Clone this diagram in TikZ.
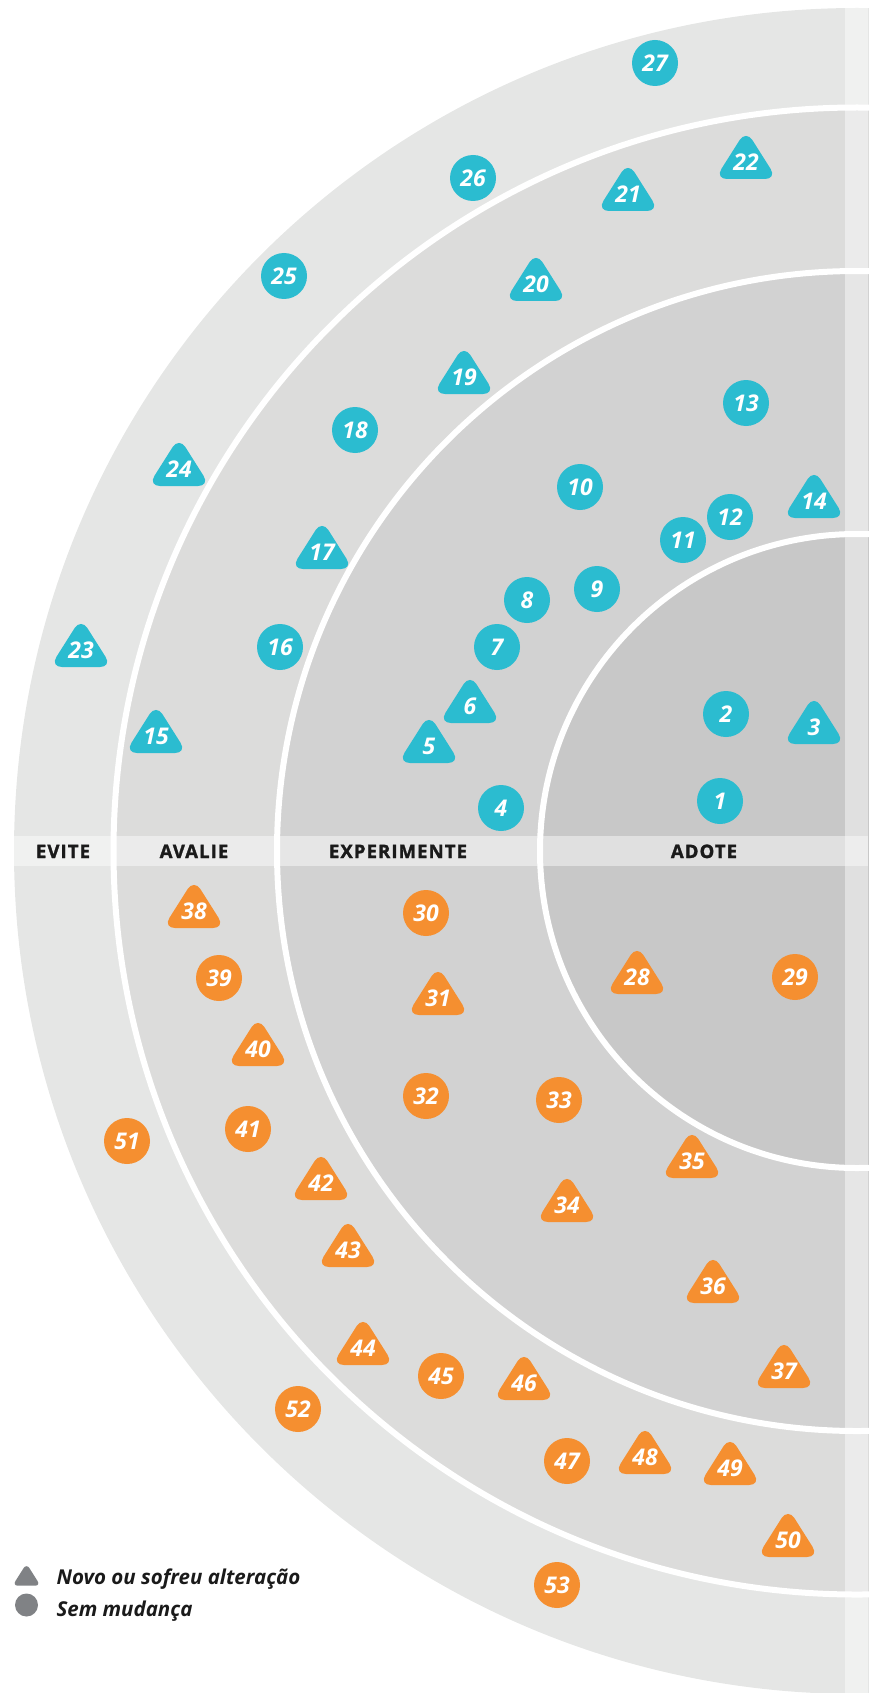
\documentclass[tikz,border=0pt]{standalone}
\usepackage{fontspec}
\setmainfont{Open Sans}
\newfontfamily\bandfont{Open Sans}[BoldFeatures={FakeBold=1.6},LetterSpace=6]

\definecolor{ringout}{HTML}{E5E6E5}
\definecolor{ringthree}{HTML}{DCDCDB}
\definecolor{ringtwo}{HTML}{D2D2D2}
\definecolor{ringone}{HTML}{C8C8C8}
\definecolor{techblue}{HTML}{2BBCD0}
\definecolor{techorange}{HTML}{F58F30}
\definecolor{legendgrey}{HTML}{808285}
\definecolor{inkdark}{HTML}{1A1A1A}

\tikzset{
  pcirc/.style={circle,fill=#1,minimum size=46,inner sep=0,text=white,
    font=\bfseries\itshape\fontsize{23}{23}\selectfont},
  plabel/.style={inner sep=0,text=white,
    font=\bfseries\itshape\fontsize{23}{23}\selectfont},
  tri/.pic={\fill[#1,rounded corners=12] (0,-32) -- (31,17) -- (-31,17) -- cycle;},
  ringname/.style={anchor=base,text=inkdark,font=\bandfont\bfseries\fontsize{18.5}{18.5}\selectfont},
  legtext/.style={anchor=base west,text=inkdark,font=\bfseries\itshape\fontsize{20.5}{20.5}\selectfont}
}

\begin{document}
\begin{tikzpicture}[x=1pt,y=-1pt]
\useasboundingbox (0,0) rectangle (868,1693);
\coordinate (ctr) at (857,851);

% rings
\foreach \rad/\col in {843/ringout,743.5/ringthree,580/ringtwo,317/ringone}
  \fill[\col] (ctr) circle (\rad);
\begin{scope}
  \clip (ctr) circle (843);
  \fill[white,opacity=0.45] (845,0) rectangle (868,1693);
  \fill[white,opacity=0.45] (0,836) rectangle (868,866);
\end{scope}
\foreach \rad in {743.5,580,317}
  \draw[white,line width=6] (ctr) circle (\rad);

% ring names
\node[ringname] (evite) at (63,858) {EVITE};
\node[ringname] (avalie) at (194,858) {AVALIE};
\node[ringname] (experimente) at (398,858) {EXPERIMENTE};
\node[ringname] (adote) at (704,858) {ADOTE};

% blue
\foreach \n/\x/\y in {1/720/801,2/726/714,4/501/808,7/497/647,8/527/600,
  9/597/589,10/580/487,11/683/540,12/730/517,13/746/403,16/280/647,
  18/355/430,25/284/276,26/473/178,27/655/63}
  \node[pcirc=techblue] (m\n) at (\x,\y) {\n};
\foreach \n/\x/\y in {3/814/727,5/429/746,6/470/706,14/814/501,15/156/736,
  17/322/552,19/464/377,20/536/284,21/628/194,22/746/162,23/81/650,24/179/469}
{
  \pic at (\x,\y) {tri=techblue};
  \node[plabel] (m\n) at (\x,\y) {\n};
}

% orange
\foreach \n/\x/\y in {29/795/977,30/426/913,32/426/1096,33/559/1100,39/219/978,
  41/248/1129,45/441/1376,47/567/1461,51/127/1141,52/298/1409,53/557/1585}
  \node[pcirc=techorange] (m\n) at (\x,\y) {\n};
\foreach \n/\x/\y in {28/637/977,31/438/998,34/567/1205,35/692/1161,36/713/1286,
  37/784/1371,38/194/911,40/258/1049,42/321/1183,43/348/1250,44/363/1348,
  46/524/1383,48/645/1457,49/730/1468,50/788/1540}
{
  \pic at (\x,\y) {tri=techorange};
  \node[plabel] (m\n) at (\x,\y) {\n};
}

% legend
\fill[legendgrey,rounded corners=5.5] (26.5,1563.5) -- (40.5,1585.7) -- (12.5,1585.7) -- cycle;
\node[circle,fill=legendgrey,minimum size=23,inner sep=0] (legcirc) at (26.5,1605) {};
\node[legtext] (legnew) at (53,1584) {Novo ou sofreu alteração};
\node[legtext] (legsame) at (53,1616) {Sem mudança};
\end{tikzpicture}
\end{document}
